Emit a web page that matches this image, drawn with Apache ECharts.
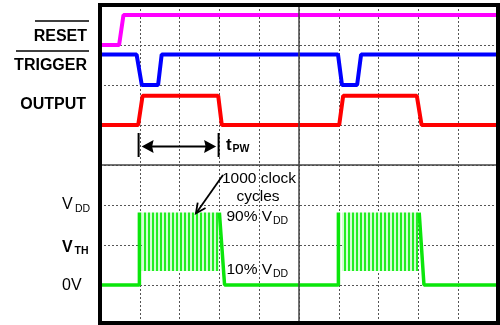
<!DOCTYPE html>
<html><head><meta charset="utf-8">
<script src="https://cdn.jsdelivr.net/npm/echarts@6/dist/echarts.min.js"></script>
<style>html,body{margin:0;padding:0;background:#fff}#c{width:500px;height:325px}</style>
</head><body><div id="c"></div>
<script>
// ---- data (x: grid divisions from left, y: grid rows from top) ----
const resetX = [0.05, 0.48, 0.59, 9.95];
const resetY = [1.0, 1.0, 0.25, 0.25];
const triggerX = [0.05, 0.92, 1.05, 1.46, 1.55, 5.98, 6.08, 6.46, 6.56, 9.95];
const triggerY = [1.24, 1.24, 2.0, 2.0, 1.24, 1.24, 2.0, 2.0, 1.24, 1.24];
const outputX = [0.05, 0.96, 1.07, 2.97, 3.06, 6.01, 6.11, 7.96, 8.08, 9.95];
const outputY = [3.0, 3.0, 2.27, 2.27, 3.0, 3.0, 2.27, 2.27, 3.0, 3.0];
const capX = [0.05, 0.99, 0.99, null, 3.0, 3.13, 5.99, 5.99, null, 8.02, 8.14, 9.95];
const capY = [7.0, 7.0, 5.19, null, 5.19, 7.0, 7.0, 5.19, null, 5.19, 7.0, 7.0];
const clockStart = [1.05, 6.08];
const clockEnd = [2.99, 7.99];
const clockHigh = [5.19, 5.19];   // 90% VDD
const clockLow = [6.65, 6.65];    // 10% VDD
const pwArrow = [0.97, 2.98, 3.54, 3.2, 3.8]; // x0, x1, level, bar top, bar bottom
const noteArrow = [3.09, 4.25, 2.41, 5.21];   // tail x,y -> head x,y
const midLines = {x: 5, y: 4};

const chart = echarts.init(document.getElementById('c'), null, {renderer: 'canvas'});
function pts(xs, ys) { return xs.map((x, i) => x === null ? ['-', '-'] : [x, ys[i]]); }

const pc = document.createElement('canvas'); pc.width = 4; pc.height = 2;
const g2 = pc.getContext('2d');
g2.fillStyle = '#d2ffd2'; g2.fillRect(0, 0, 4, 2);
g2.fillStyle = '#22ee22'; g2.fillRect(0, 0, 2, 2);

const FONT = '"Liberation Sans", Arial, sans-serif';
function txt(x, y, text, size, bold, align) {
  return {type: 'text', x: x, y: y, z: 120, style: {text: text, font: (bold ? 'bold ' : '') + size + 'px ' + FONT,
    fill: '#000', align: align || 'left', textAlign: align || 'left', verticalAlign: 'middle', textVerticalAlign: 'middle'}};
}
function hline(x1, x2, y) {
  return {type: 'line', z: 120, shape: {x1: x1, y1: y, x2: x2, y2: y}, style: {stroke: '#000', lineWidth: 1.5}};
}
const lineBase = {type: 'line', symbol: 'none', silent: true, animation: false, connectNulls: false};

chart.setOption({
  animation: false,
  grid: {left: 100, top: 5, width: 398, height: 318, show: false},
  xAxis: {type: 'value', min: 0, max: 10, interval: 1,
    axisLine: {show: false}, axisTick: {show: false}, axisLabel: {show: false},
    splitLine: {show: true, lineStyle: {color: '#555', width: 1, type: [2, 2]}}},
  yAxis: {type: 'value', inverse: true, min: 0, max: 7.95, interval: 1,
    axisLine: {show: false}, axisTick: {show: false}, axisLabel: {show: false},
    splitLine: {show: true, lineStyle: {color: '#555', width: 1, type: [2, 2]}}},
  series: [
    Object.assign({}, lineBase, {name: 'reset', data: pts(resetX, resetY), lineStyle: {color: '#ff00ff', width: 4},
      markLine: {silent: true, symbol: 'none', label: {show: false}, animation: false,
        lineStyle: {color: '#444', width: 1.5, type: 'solid'},
        data: [{xAxis: midLines.x}, {yAxis: midLines.y}]}}),
    Object.assign({}, lineBase, {name: 'trigger', data: pts(triggerX, triggerY), lineStyle: {color: '#0000ff', width: 4}}),
    Object.assign({}, lineBase, {name: 'output', data: pts(outputX, outputY), lineStyle: {color: '#ff0000', width: 4}}),
    {type: 'custom', name: 'clock', silent: true, animation: false,
      data: clockStart.map((s, i) => [s, clockEnd[i], clockHigh[i], clockLow[i]]),
      encode: {x: [0, 1], y: [2, 3]},
      renderItem: function (p, api) {
        const a = api.coord([api.value(0), api.value(2)]);
        const b = api.coord([api.value(1), api.value(3)]);
        return {type: 'rect', shape: {x: a[0], y: a[1], width: b[0] - a[0], height: b[1] - a[1]},
          style: {fill: {image: pc, repeat: 'repeat'}}};
      }},
    Object.assign({}, lineBase, {name: 'cap', data: pts(capX, capY), lineStyle: {color: '#0be60b', width: 3.5}}),
    {type: 'custom', name: 'pw', silent: true, animation: false, data: [pwArrow],
      encode: {x: [0, 1], y: [2, 3, 4]},
      renderItem: function (p, api) {
        const l = api.coord([api.value(0), api.value(2)]);
        const r = api.coord([api.value(1), api.value(2)]);
        const t0 = api.coord([api.value(0), api.value(3)]);
        const b0 = api.coord([api.value(0), api.value(4)]);
        const t1 = api.coord([api.value(1), api.value(3)]);
        const b1 = api.coord([api.value(1), api.value(4)]);
        const y = l[1], tl = l[0] + 3, tr = r[0] - 2.5, hl = 12, hh = 6.5;
        return {type: 'group', children: [
          {type: 'line', shape: {x1: t0[0], y1: t0[1], x2: b0[0], y2: b0[1]}, style: {stroke: '#000', lineWidth: 2}},
          {type: 'line', shape: {x1: t1[0], y1: t1[1], x2: b1[0], y2: b1[1]}, style: {stroke: '#000', lineWidth: 2}},
          {type: 'line', shape: {x1: tl + 6, y1: y, x2: tr - 6, y2: y}, style: {stroke: '#000', lineWidth: 2}},
          {type: 'polygon', shape: {points: [[tl, y], [tl + hl, y - hh], [tl + hl - 1.5, y], [tl + hl, y + hh]]}, style: {fill: '#000'}},
          {type: 'polygon', shape: {points: [[tr, y], [tr - hl, y - hh], [tr - hl + 1.5, y], [tr - hl, y + hh]]}, style: {fill: '#000'}}
        ]};
      }},
    {type: 'custom', name: 'note', silent: true, animation: false, data: [noteArrow],
      encode: {x: [0, 2], y: [1, 3]},
      renderItem: function (p, api) {
        const a = api.coord([api.value(0), api.value(1)]);
        const b = api.coord([api.value(2), api.value(3)]);
        const ang = Math.atan2(b[1] - a[1], b[0] - a[0]);
        const L = 11, w = 0.45;
        const h1 = [b[0] - L * Math.cos(ang - w), b[1] - L * Math.sin(ang - w)];
        const h2 = [b[0] - L * Math.cos(ang + w), b[1] - L * Math.sin(ang + w)];
        return {type: 'group', children: [
          {type: 'line', shape: {x1: a[0], y1: a[1], x2: b[0], y2: b[1]}, style: {stroke: '#000', lineWidth: 1.8}},
          {type: 'polyline', shape: {points: [h1, b, h2]}, style: {stroke: '#000', lineWidth: 1.8, fill: null}}
        ]};
      }}
  ],
  graphic: [
    {type: 'rect', z: 110, shape: {x: 100, y: 5, width: 398, height: 318}, style: {fill: 'none', stroke: '#000', lineWidth: 4}},
    txt(87, 36.5, 'RESET', 16, true, 'right'), hline(35, 89, 21),
    txt(87, 65.5, 'TRIGGER', 16, true, 'right'), hline(16, 89, 51),
    txt(86, 105, 'OUTPUT', 16, true, 'right'),
    txt(62, 205, 'V', 16, false), txt(75, 209.5, 'DD', 10.5, false),
    txt(62, 247.5, 'V', 16, true), txt(74.5, 251.5, 'TH', 10.5, true),
    txt(62, 286, '0V', 16, false),
    txt(226, 145, 't', 17, true), txt(232.5, 149.5, 'PW', 10.5, true),
    txt(259, 179, '1000 clock', 15.5, false, 'center'),
    txt(258, 197, 'cycles', 15.5, false, 'center'),
    txt(226.5, 217, '90% V', 15.5, false), txt(273, 221.5, 'DD', 10.5, false),
    txt(226.5, 270, '10% V', 15.5, false), txt(273, 274.5, 'DD', 10.5, false)
  ]
});
</script></body></html>
